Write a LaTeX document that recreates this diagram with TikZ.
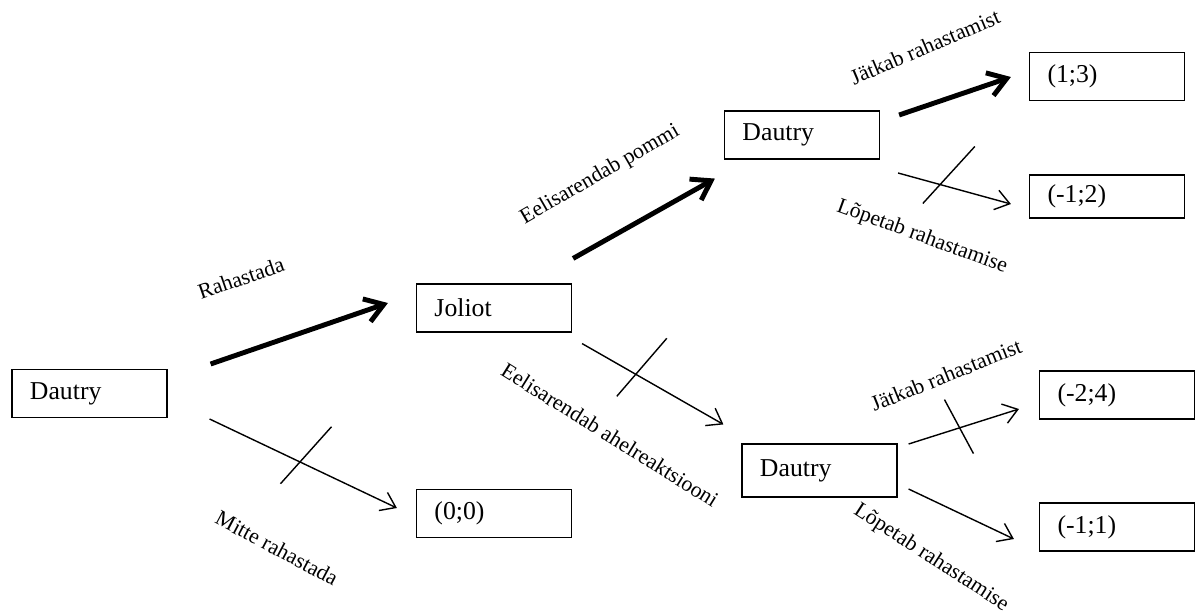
\documentclass[tikz,border=0pt]{standalone}
\usepackage{fontspec}
\setmainfont{Liberation Serif}
\usetikzlibrary{arrows.meta}
\tikzset{
	box/.style={draw, line width=0.8pt, minimum height=1.2cm, text width=2.975cm, inner xsep=0.45cm, inner ysep=0pt, align=left, font=\fontsize{18.3}{20}\selectfont},
	lbl/.style={inner sep=0pt, font=\fontsize{15.5}{17}\selectfont},
	pick/.style={line width=3.5pt, -{Straight Barb[length=0.45cm, width=0.6cm]}},
	drop/.style={line width=1pt, -{Straight Barb[length=0.35cm, width=0.5cm]}},
	cut/.style={line width=1pt}
}
\begin{document}
\begin{tikzpicture}[x=0.025cm, y=-0.025cm]
		\useasboundingbox (0,0) rectangle (1201,614);
		
		\node[box] (d0) at (89.5,393.5) {Dautry};
		\node[box] (jo) at (494,308) {Joliot};
		\node[box] (z0) at (494,513.5) {(0;0)};
		\node[box] (d1) at (802,135) {Dautry};
		\node[box, minimum height=1.325cm] (d2) at (819.5,470.5) {Dautry};
		\node[box] (p13) at (1107,76.5) {(1;3)};
		\node[box, minimum height=1.075cm] (p12) at (1107,196.5) {(-1;2)};
		\node[box] (p24) at (1117,395) {(-2;4)};
		\node[box] (p11) at (1117,527) {(-1;1)};
		
		\draw[pick] ([shift={(43,-29.5)}]d0.east) -- ([shift={(-28,-5)}]jo.west);
		\draw[drop] ([shift={(42,25.5)}]d0.east) -- coordinate[pos=0.48] (c1) ([shift={(-19,-5.5)}]z0.west);
		\draw[pick] ([shift={(1,-25)}]jo.north east) -- ([shift={(-9,19)}]d1.south west);
		\draw[drop] ([shift={(10,11)}]jo.south east) -- coordinate[pos=0.38] (c2) ([shift={(-18,-19)}]d2.north west);
		\draw[pick] ([shift={(19,-20)}]d1.east) -- ([shift={(-18,0.5)}]p13.west);
		\draw[drop] ([shift={(18,38)}]d1.east) -- coordinate[pos=0.37] (c3) ([shift={(-18,7.5)}]p12.west);
		\draw[drop] ([shift={(11,-26.5)}]d2.east) -- coordinate[pos=0.47] (c4) ([shift={(-20,14)}]p24.west);
		\draw[drop] ([shift={(11,18.5)}]d2.east) -- ([shift={(-25,12)}]p11.west);
		
		\draw[cut] ([shift={(-19,22)}]c1) -- ([shift={(32,-35)}]c1);
		\draw[cut] ([shift={(-19,22)}]c2) -- ([shift={(31,-36)}]c2);
		\draw[cut] ([shift={(-17,19)}]c3) -- ([shift={(35,-38)}]c3);
		\draw[cut] ([shift={(-16,-28)}]c4) -- ([shift={(13,26)}]c4);
		
		\node[lbl, rotate=19] (l1) at (241,278) {Rahastada};
		\node[lbl, rotate=-28] (l2) at (277,548) {Mitte rahastada};
		\node[lbl, rotate=30] (l3) at (600,175) {Eelisarendab pommi};
		\node[lbl, rotate=-32] (l4) at (610,435) {Eelisarendab ahelreaktsiooni};
		\node[lbl, rotate=23] (l5) at (925,47) {Jätkab rahastamist};
		\node[lbl, rotate=-20] (l6) at (922,237) {Lõpetab rahastamise};
		\node[lbl, rotate=22] (l7) at (946,375) {Jätkab rahastamist};
		\node[lbl, rotate=-33] (l8) at (931,558) {Lõpetab rahastamise};
	\end{tikzpicture}
\end{document}
